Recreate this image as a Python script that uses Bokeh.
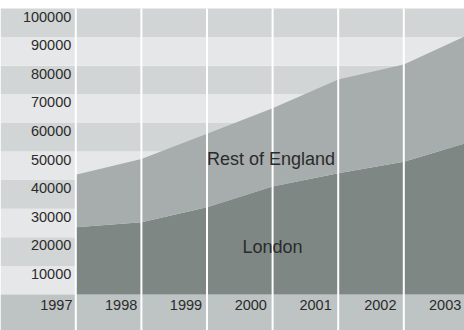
from bokeh.plotting import figure
from bokeh.models import ColumnDataSource, Range1d
from bokeh.core.properties import value
from bokeh.embed import file_html
from bokeh.resources import INLINE

# ---- data ----
years = [1997, 1998, 1999, 2000, 2001, 2002, 2003]
london = [23500, 25300, 30500, 37800, 42400, 46400, 53300]
rest_of_england = [18400, 22100, 25700, 27300, 32800, 34000, 37700]
y_ticks = [10000, 20000, 30000, 40000, 50000, 60000, 70000, 80000, 90000, 100000]
y_tick_labels = [str(v) for v in y_ticks]
x_tick_labels = [str(y) for y in years]
series_labels = ["London", "Rest of England"]

# ---- geometry (pixel mapping) ----
W, H = 464, 330
px_per_year = 65.6
x0_px = 75.3            # pixel of first year
x_left = years[0] - x0_px / px_per_year
x_right = years[0] + (W - x0_px) / px_per_year
top_px, zero_px = 8, 294
px_per_unit = (zero_px - top_px) / 100000
y_top = 100000 + top_px / px_per_unit
y_bottom = -(H - zero_px) / px_per_unit

FONT = value("Liberation Sans")
TXT = "#2b2b2b"

p = figure(width=W, height=H, output_backend="svg", toolbar_location=None,
           x_range=Range1d(x_left, x_right), y_range=Range1d(y_bottom, y_top),
           x_axis_type=None, y_axis_type=None, min_border=0,
           background_fill_color="white", border_fill_color="white")
p.outline_line_color = None
p.xgrid.visible = False
p.ygrid.visible = False

# horizontal bands
band_src = ColumnDataSource(dict(
    bottom=[v - 10000 for v in y_ticks],
    top=y_ticks,
    color=["#d2d5d5" if (v // 10000) % 2 == 0 else "#e6e7e8" for v in y_ticks],
))
p.quad(left=x_left, right=x_right, bottom="bottom", top="top", color="color",
       line_color=None, source=band_src)
# x-axis band
p.quad(left=x_left, right=x_right, bottom=y_bottom, top=0, color="#bec4c3",
       line_color=None)

# stacked areas
src = ColumnDataSource(dict(year=years, london=london, rest=rest_of_england))
p.varea_stack(["london", "rest"], x="year", color=["#7f8785", "#a7acad"], source=src)

# vertical white grid lines
p.segment(x0=years, x1=years, y0=y_bottom, y1=100000, line_color="white",
          line_width=2)

# y tick labels
p.text(x=[years[0]] * len(y_ticks), y=y_ticks, text=y_tick_labels,
       text_align="right", text_baseline="alphabetic", x_offset=-4.5,
       y_offset=8, text_font=FONT, text_font_size="14.5px", text_color=TXT)

# x tick labels
lab_x = [years[0] + (y - years[0]) * 64.8 / px_per_year for y in years]
p.text(x=lab_x, y=[0] * len(years), text=x_tick_labels, text_align="right",
       text_baseline="alphabetic", x_offset=-3.3, y_offset=10.5,
       text_font=FONT, text_font_size="14.5px", text_color=TXT)

# series labels
p.text(x=[1999.54, 1999.0], y=[14800, 45450], text=series_labels,
       text_align="left", text_baseline="alphabetic", y_offset=-5.5,
       text_font=FONT, text_font_size="18px", text_color=TXT)

open("out.html", "w").write(file_html(p, INLINE))
